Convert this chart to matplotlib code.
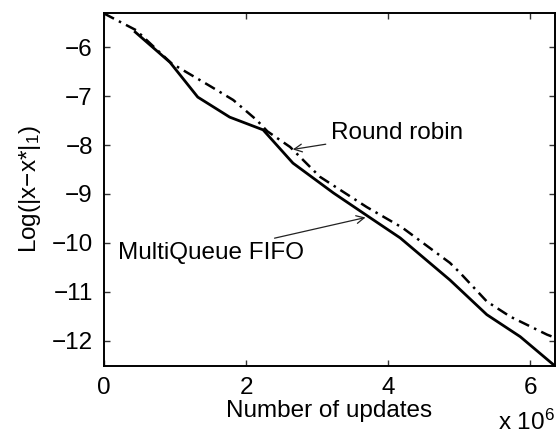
import numpy as np
import matplotlib
matplotlib.use("Agg")
import matplotlib.pyplot as plt

plt.rcParams["font.family"] = ["Liberation Sans", "DejaVu Sans"]
plt.rcParams["mathtext.fontset"] = "custom"
plt.rcParams["mathtext.rm"] = "Liberation Sans"
plt.rcParams["mathtext.it"] = "Liberation Sans"

# number of updates (x 10^6) and log error for each scheduler
rr_updates = [0.0, 0.45, 0.95, 1.5, 1.82, 2.15, 2.3, 2.62, 3.04, 3.70, 4.2, 4.87, 5.01, 5.39, 5.72, 6.24, 6.35]
rr_error = [-5.31, -5.65, -6.33, -6.80, -7.08, -7.49, -7.72, -8.04, -8.65, -9.27, -9.69, -10.41, -10.61, -11.2, -11.51, -11.88, -11.94]

mq_updates = [0.44, 0.93, 1.32, 1.77, 2.24, 2.66, 3.23, 3.75, 4.17, 4.87, 5.39, 5.86, 6.35]
mq_error = [-5.69, -6.31, -7.02, -7.43, -7.69, -8.37, -8.98, -9.49, -9.9, -10.76, -11.47, -11.92, -12.52]

x_ticks = [0, 2, 4, 6]
y_ticks = [-12, -11, -10, -9, -8, -7, -6]

fig = plt.figure(figsize=(5.58, 4.36), dpi=100)
ax = fig.add_axes([104 / 558, 1 - 366 / 436, 451 / 558, 353 / 436])

ax.plot(np.array(rr_updates) * 1e6, rr_error, color="black", linewidth=1.8,
        linestyle=(0, (4.5, 2.2, 1.0, 2.2)))
ax.plot(np.array(mq_updates) * 1e6, mq_error, color="black", linewidth=2.0,
        linestyle="-")

ax.set_xlim(0, 6.35e6)
ax.set_ylim(-12.52, -5.3)
ax.set_xticks([t * 1e6 for t in x_ticks])
ax.set_xticklabels([str(t) for t in x_ticks])
ax.set_yticks(y_ticks)
ax.set_yticklabels(["\u2212" + str(-t) for t in y_ticks])

ax.tick_params(direction="in", length=4, width=1.0, top=True, right=True,
               labelsize=17.5, pad=8, color="#333333")
for sp in ax.spines.values():
    sp.set_linewidth(1.4)

ax.set_xlabel("Number of updates", fontsize=17.5, labelpad=1)
ax.set_ylabel(r"Log(|x$-$x*|$_1$)", fontsize=17.5, labelpad=6)

arrow = dict(arrowstyle="->", color="#222222", lw=0.9, mutation_scale=14)
ax.annotate("Round robin", xy=(2.62e6, -8.1), xytext=(3.2e6, -7.75),
            fontsize=17.5, va="center", ha="left", arrowprops=arrow)
ax.annotate("MultiQueue FIFO", xy=(3.72e6, -9.47), xytext=(0.2e6, -10.2),
            fontsize=17.5, va="center", ha="left", arrowprops=arrow)

fig.text(498 / 558, 1 - 430 / 436, r"x 10$^6$", fontsize=17.5, ha="left", va="baseline")

fig.savefig("out.png", dpi=100)
